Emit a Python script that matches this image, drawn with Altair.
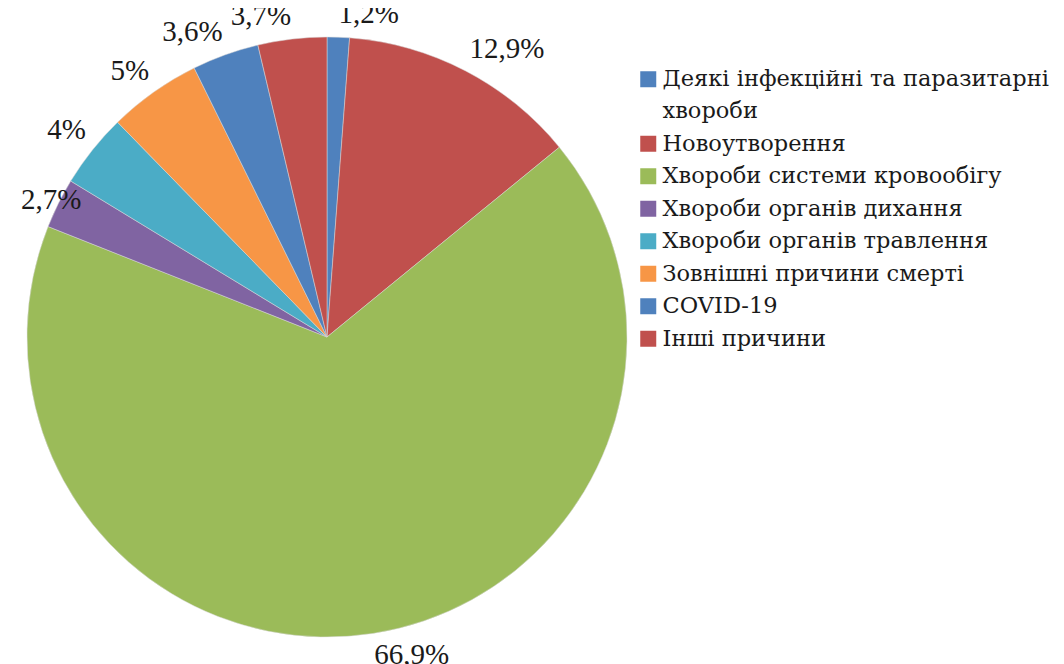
import altair as alt
import pandas as pd

categories = [
    "Деякі інфекційні та паразитарні хвороби",
    "Новоутворення",
    "Хвороби системи кровообігу",
    "Хвороби органів дихання",
    "Хвороби органів травлення",
    "Зовнішні причини смерті",
    "COVID-19",
    "Інші причини",
]
values = [1.2, 12.9, 66.9, 2.7, 4.0, 5.0, 3.6, 3.7]
labels = ["1,2%", "12,9%", "66,9%", "2,7%", "4%", "5%", "3,6%", "3,7%"]

palette = ["#4F81BD", "#C0504D", "#9BBB59", "#8064A2", "#4BACC6", "#F79646", "#4F81BD", "#C0504D"]

df = pd.DataFrame({
    "cat": categories,
    "value": values,
    "label": labels,
    "idx": list(range(len(categories))),
})

LEGEND_FONT = "DejaVu Serif"
LABEL_FONT = "Liberation Serif"

first = categories[0]
label_expr = (
    "datum.label == '" + first + "' ? ['Деякі інфекційні та паразитарні', 'хвороби'] : datum.label"
)

pie = alt.Chart(df).mark_arc(outerRadius=300, stroke="#d9d9d9", strokeWidth=0.5).encode(
    theta=alt.Theta("value:Q", stack=True),
    order=alt.Order("idx:O", sort="ascending"),
    color=alt.Color(
        "cat:N",
        scale=alt.Scale(domain=categories, range=palette),
        sort=categories,
        legend=alt.Legend(
            title=None,
            orient="none",
            legendX=629,
            legendY=60,
            symbolType="square",
            symbolSize=256,
            symbolStrokeWidth=0,
            labelFont=LEGEND_FONT,
            labelFontSize=22.5,
            labelColor="#1a1a1a",
            labelLimit=500,
            labelExpr=label_expr,
            rowPadding=9.5,
            symbolOffset=0,
            labelOffset=3,
        ),
    ),
)

S = "sin(2 * PI * datum.frac)"
C = "cos(2 * PI * datum.frac)"

text = (
    alt.Chart(df)
    .transform_window(cum="sum(value)", sort=[alt.SortField("idx", order="ascending")])
    .transform_joinaggregate(total="sum(value)")
    .transform_calculate(frac="(datum.cum - datum.value / 2) / datum.total")
    .mark_text(
        radius=308,
        font=LABEL_FONT,
        fontSize=29,
        color="#1a1a1a",
        align=alt.expr(f"{S} < -0.85 ? 'center' : ({S} >= 0 ? 'left' : 'right')"),
        baseline=alt.expr(f"{C} > 0.5 ? 'bottom' : ({C} < -0.5 ? 'top' : 'middle')"),
    )
    .encode(
        theta=alt.Theta("frac:Q", stack=None, scale=alt.Scale(domain=[0, 1])),
        text="label:N",
    )
)

chart = (
    alt.layer(pie, text)
    .resolve_scale(theta="independent")
    .properties(
        width=638,
        height=658,
        padding={"left": 0, "top": 0, "right": 410, "bottom": 0},
        autosize=alt.AutoSizeParams(type="none"),
    )
    .configure(background="white", style={"guide-label": {"lineHeight": 32}})
    .configure_view(stroke=None)
)

chart.save("out.html", embed_options={"renderer": "svg", "actions": False})
